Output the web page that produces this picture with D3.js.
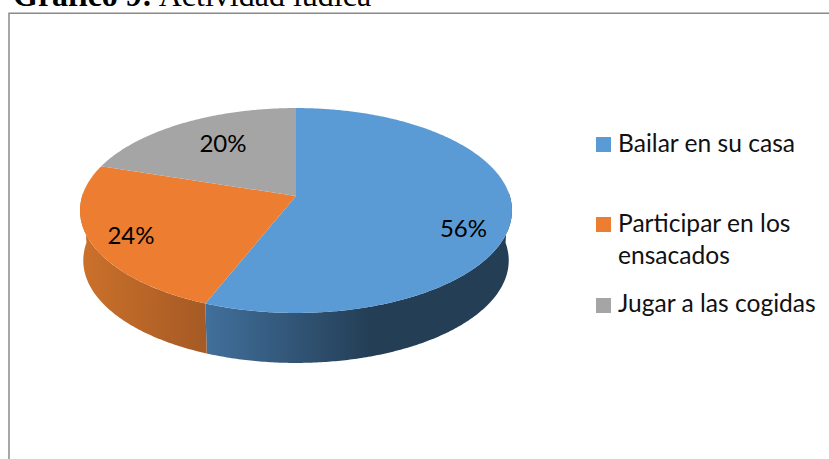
<!DOCTYPE html>
<html>
<head>
<meta charset="utf-8">
<style>
html, body { margin: 0; padding: 0; background: #fff; overflow: hidden; }
svg { display: block; }
</style>
<script src="https://cdnjs.cloudflare.com/ajax/libs/d3/7.8.5/d3.min.js"></script>
</head>
<body>
<script>
// chart data
var categories = ["Bailar en su casa", "Participar en los ensacados", "Jugar a las cogidas"];
var percents = [56, 24, 20];
var colors = ["#5b9bd5", "#ed7d31", "#a5a5a5"];
var sideFrom = ["#41709c", "#cb712b", "#777"];
var sideTo = ["#243e56", "#a65a24", "#777"];

var width = 829, height = 459;

var svg = d3.select("body").append("svg")
    .attr("width", width)
    .attr("height", height);

var defs = svg.append("defs");

// chart frame, bottom and right run off the picture
svg.append("path")
    .attr("d", "M9,459V13.2H829")
    .attr("fill", "none")
    .attr("stroke", "#8a8a8a")
    .attr("stroke-width", 1.5);

// title, cut by the top of the picture like the reference
var title = svg.append("text")
    .attr("x", 13)
    .attr("y", 5.5)
    .attr("font-family", "'Liberation Serif'")
    .attr("font-size", "32px")
    .attr("fill", "#000");
title.append("tspan").attr("font-weight", "bold").text("Gráfico 9:");
title.append("tspan").text(" Actividad lúdica");

// perspective projection of the pie disc
var cx = 296, cy = 196;
var rx = 213.8, ry = 100.4, tilt = -0.1414;
var depth = 50, shrink = 0.985;

function topPoint(a) {
    var u = Math.sin(a), v = -Math.cos(a), w = 1 + tilt * v;
    return [cx + rx * u / w, cy + ry * v / w];
}
function bottomPoint(a) {
    var p = topPoint(a);
    return [cx + (p[0] - cx) * shrink, p[1] + depth];
}

var pie = d3.pie().sort(null).value(function(d) { return d; });
var arcs = pie(percents);
var line = d3.line();

function samples(a0, a1) {
    var n = Math.max(2, Math.ceil((a1 - a0) / 0.01));
    return d3.range(n + 1).map(function(i) { return a0 + (a1 - a0) * i / n; });
}

// outer wall, only the part that faces the viewer
var frontStart = Math.PI * 0.49, frontEnd = Math.PI * 1.51;
arcs.forEach(function(d, i) {
    var a0 = Math.max(d.startAngle, frontStart),
        a1 = Math.min(d.endAngle, frontEnd);
    if (a0 >= a1) return;
    var top = samples(a0, a1).map(topPoint),
        bottom = samples(a0, a1).map(bottomPoint).reverse();

    var x0 = d3.min(top, function(p) { return p[0]; }),
        x1 = d3.max(top, function(p) { return p[0]; });
    var grad = defs.append("linearGradient")
        .attr("id", "side" + i)
        .attr("gradientUnits", "userSpaceOnUse")
        .attr("x1", x0).attr("x2", i === 0 ? 370 : x1)
        .attr("y1", 0).attr("y2", 0);
    grad.append("stop").attr("offset", 0).attr("stop-color", sideFrom[i]);
    grad.append("stop").attr("offset", 1).attr("stop-color", sideTo[i]);

    svg.append("path")
        .attr("d", line(top.concat(bottom)) + "Z")
        .attr("fill", "url(#side" + i + ")");
});

// top face
arcs.forEach(function(d, i) {
    var pts = samples(d.startAngle, d.endAngle).map(topPoint);
    pts.unshift([cx, cy]);
    svg.append("path")
        .attr("d", line(pts) + "Z")
        .attr("fill", colors[i]);
});

// percent labels
var labelX = [463.5, 131, 223], labelY = [237, 244, 152];
percents.forEach(function(d, i) {
    svg.append("text")
        .attr("x", labelX[i])
        .attr("y", labelY[i])
        .attr("text-anchor", "middle")
        .attr("font-family", "Lato")
        .attr("font-size", "24px")
        .attr("fill", "#000")
        .text(d + "%");
});

// legend
var legendY = [137, 217, 298], baseY = [152, 232, 312];
var legendLines = [[categories[0]], ["Participar en los", "ensacados"], [categories[2]]];
categories.forEach(function(c, i) {
    svg.append("rect")
        .attr("x", 596)
        .attr("y", legendY[i])
        .attr("width", 15)
        .attr("height", 15)
        .attr("fill", colors[i]);
    legendLines[i].forEach(function(t, j) {
        svg.append("text")
            .attr("x", 618)
            .attr("y", baseY[i] + j * 32)
            .attr("font-family", "Lato")
            .attr("font-size", "24.6px")
            .attr("fill", "#111")
            .text(t);
    });
});
</script>
</body>
</html>
